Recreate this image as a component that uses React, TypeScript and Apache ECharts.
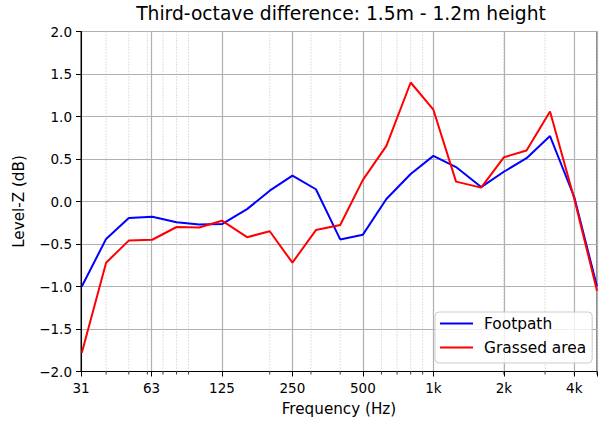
import React, { useEffect, useRef } from "react";
import * as echarts from "echarts";

const frequencies = [31.5, 40, 50, 63, 80, 100, 125, 160, 200, 250, 315, 400, 500, 630, 800, 1000, 1250, 1600, 2000, 2500, 3150, 4000, 5000];
const footpath = [-1.0, -0.44, -0.195, -0.18, -0.245, -0.27, -0.265, -0.09, 0.127, 0.305, 0.144, -0.446, -0.39, 0.03, 0.324, 0.537, 0.405, 0.17, 0.35, 0.51, 0.77, 0.05, -1.0];
const grassed = [-1.78, -0.72, -0.46, -0.45, -0.3, -0.305, -0.226, -0.42, -0.35, -0.72, -0.336, -0.277, 0.254, 0.655, 1.4, 1.08, 0.234, 0.163, 0.52, 0.6, 1.06, 0.03, -1.05];
const majorTickLabels = ["31", "63", "125", "250", "500", "1k", "2k", "4k"];
const minorTickFreqs = [40, 50, 60, 70, 80, 90, 200, 300, 400, 600, 700, 800, 900, 2000, 3000, 4000, 5000];
const yTicks = { min: -2, max: 2, step: 0.5 };
const refFreq = 31.25;
const maxFreq = 5000;

const FONT = "DejaVu Sans";
const toOct = (f: number) => Math.log2(f / refFreq);

export default function App() {
  const ref = useRef<HTMLDivElement>(null);
  useEffect(() => {
    if (!ref.current) return;
    const chart = echarts.init(ref.current, null, { renderer: "svg" });
    const option: any = {
      animation: false,
      backgroundColor: "#ffffff",
      title: {
        text: "Third-octave difference: 1.5m - 1.2m height",
        left: 341,
        textAlign: "center",
        top: 0,
        padding: [4, 0, 0, 0],
        textStyle: { fontFamily: FONT, fontSize: 18.7, fontWeight: "normal", color: "#000" },
      },
      grid: {
        left: 81,
        top: 31.5,
        height: 340,
        width: toOct(maxFreq) * 71.3,
        show: true,
        borderColor: "#000",
        borderWidth: 1,
        backgroundColor: "transparent",
      },
      legend: {
        data: [
          { name: "Footpath", icon: "rect" },
          { name: "Grassed area", icon: "rect" },
        ],
        orient: "vertical",
        left: 435,
        top: 312,
        itemWidth: 33,
        itemHeight: 2,
        itemGap: 7,
        padding: [3, 6, 7, 5],
        borderColor: "#cccccc",
        borderWidth: 1,
        borderRadius: 4,
        backgroundColor: "rgba(255,255,255,0.8)",
        textStyle: { fontFamily: FONT, fontSize: 15.4, color: "#000", lineHeight: 17, padding: [0, 0, 0, 6] },
      },
      xAxis: {
        type: "value",
        min: 0,
        max: toOct(maxFreq),
        interval: 1,
        name: "Frequency (Hz)",
        nameLocation: "middle",
        nameGap: 30,
        nameTextStyle: { fontFamily: FONT, fontSize: 15.2, color: "#000" },
        axisLine: { show: true, onZero: false, lineStyle: { color: "#000", width: 1 } },
        axisTick: { show: true, length: 5, lineStyle: { color: "#000", width: 1 } },
        axisLabel: {
          fontFamily: FONT,
          fontSize: 13.5,
          color: "#000",
          margin: 9,
          hideOverlap: false,
          formatter: (v: number) => {
            const r = Math.round(v);
            return Math.abs(v - r) < 1e-6 && majorTickLabels[r] !== undefined ? majorTickLabels[r] : "";
          },
        },
        splitLine: { show: true, lineStyle: { color: "#b0b0b0", width: 1.2 } },
      },
      yAxis: {
        type: "value",
        min: yTicks.min,
        max: yTicks.max,
        interval: yTicks.step,
        name: "Level-Z (dB)",
        nameLocation: "middle",
        nameGap: 55,
        nameTextStyle: { fontFamily: FONT, fontSize: 15.2, color: "#000" },
        axisLine: { show: true, onZero: false, lineStyle: { color: "#000", width: 1 } },
        axisTick: { show: true, length: 5, lineStyle: { color: "#000", width: 1 } },
        axisLabel: {
          fontFamily: FONT,
          fontSize: 13.5,
          color: "#000",
          margin: 9,
          formatter: (v: number) => (v < 0 ? "\u2212" : "") + Math.abs(v).toFixed(1),
        },
        splitLine: { show: true, lineStyle: { color: "#b0b0b0", width: 1.2 } },
      },
      series: [
        {
          type: "custom",
          name: "minor",
          silent: true,
          z: 1,
          clip: false,
          data: minorTickFreqs.map((f) => [toOct(f), 0]),
          renderItem: (params: any, api: any) => {
            const x = api.coord([api.value(0), 0])[0];
            const cs = params.coordSys;
            const bottom = cs.y + cs.height;
            return {
              type: "group",
              children: [
                {
                  type: "line",
                  shape: { x1: x, y1: cs.y, x2: x, y2: bottom },
                  style: { stroke: "#c0c0c0", lineWidth: 1, lineDash: [1, 2] },
                },
                {
                  type: "line",
                  shape: { x1: x, y1: bottom, x2: x, y2: bottom + 3 },
                  style: { stroke: "#000", lineWidth: 0.8 },
                },
              ],
            };
          },
        },
        {
          type: "line",
          name: "Footpath",
          z: 3,
          showSymbol: false,
          color: "#0000ff",
          lineStyle: { color: "#0000ff", width: 2 },
          data: frequencies.map((f, i) => [toOct(f), footpath[i]]),
        },
        {
          type: "line",
          name: "Grassed area",
          z: 3,
          showSymbol: false,
          color: "#ff0000",
          lineStyle: { color: "#ff0000", width: 2 },
          data: frequencies.map((f, i) => [toOct(f), grassed[i]]),
        },
      ],
    };
    chart.setOption(option);
    return () => chart.dispose();
  }, []);
  return <div ref={ref} style={{ width: 600, height: 423, position: "absolute", left: 0, top: 0 }} />;
}
